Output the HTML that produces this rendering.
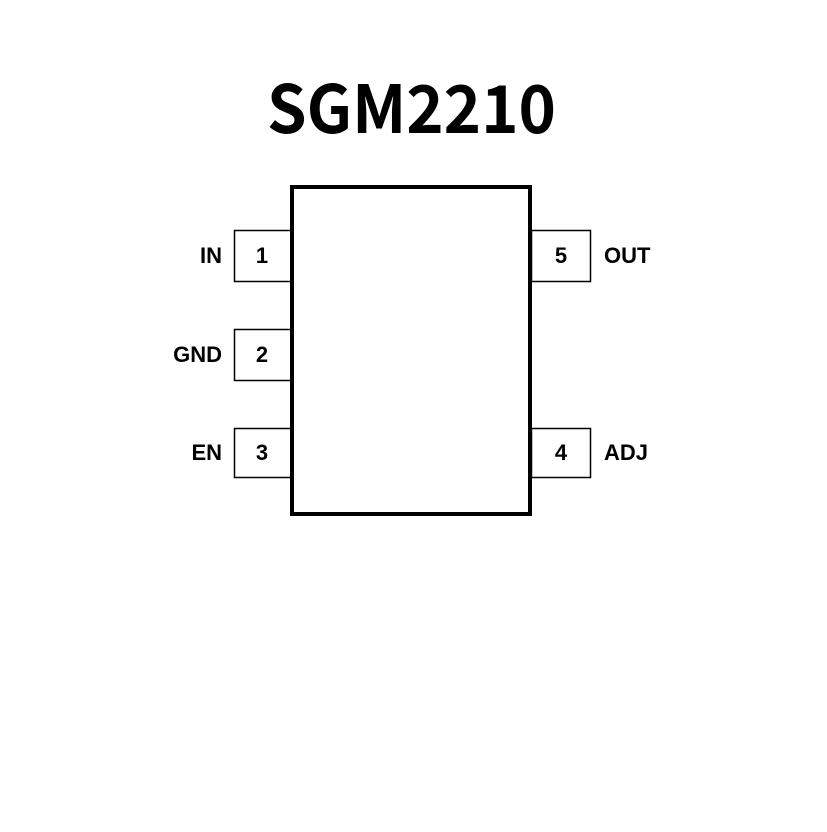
<!DOCTYPE html>
<html><head><meta charset="utf-8"><style>html,body{margin:0;padding:0;background:#fff}</style></head>
<body>
<svg width="827" height="827" viewBox="0 0 827 827" xmlns="http://www.w3.org/2000/svg">
<rect width="827" height="827" fill="#fff"/>
<text x="267" y="133" font-family="'Noto Sans CJK SC', 'Liberation Sans', sans-serif" font-weight="bold" font-size="66" textLength="289" lengthAdjust="spacingAndGlyphs">SGM2210</text>
<g fill="none" stroke="#000" stroke-width="1.5">
<rect x="234.5" y="230.5" width="57" height="51"/>
<rect x="234.5" y="329.5" width="57" height="51"/>
<rect x="234.5" y="428.5" width="57" height="49"/>
<rect x="531.5" y="230.5" width="59" height="51"/>
<rect x="531.5" y="428.5" width="59" height="49"/>
</g>
<rect x="292" y="187" width="238" height="327" fill="#fff" stroke="#000" stroke-width="4"/>
<g font-family="'Liberation Sans', sans-serif" font-weight="bold" font-size="22" fill="#000">
<text x="262" y="263" text-anchor="middle">1</text>
<text x="262" y="362" text-anchor="middle">2</text>
<text x="262" y="460" text-anchor="middle">3</text>
<text x="561" y="263" text-anchor="middle">5</text>
<text x="561" y="460" text-anchor="middle">4</text>
<text x="222" y="263" text-anchor="end">IN</text>
<text x="222" y="362" text-anchor="end">GND</text>
<text x="222" y="460" text-anchor="end">EN</text>
<text x="604" y="263">OUT</text>
<text x="604" y="460">ADJ</text>
</g>
</svg>
</body></html>
